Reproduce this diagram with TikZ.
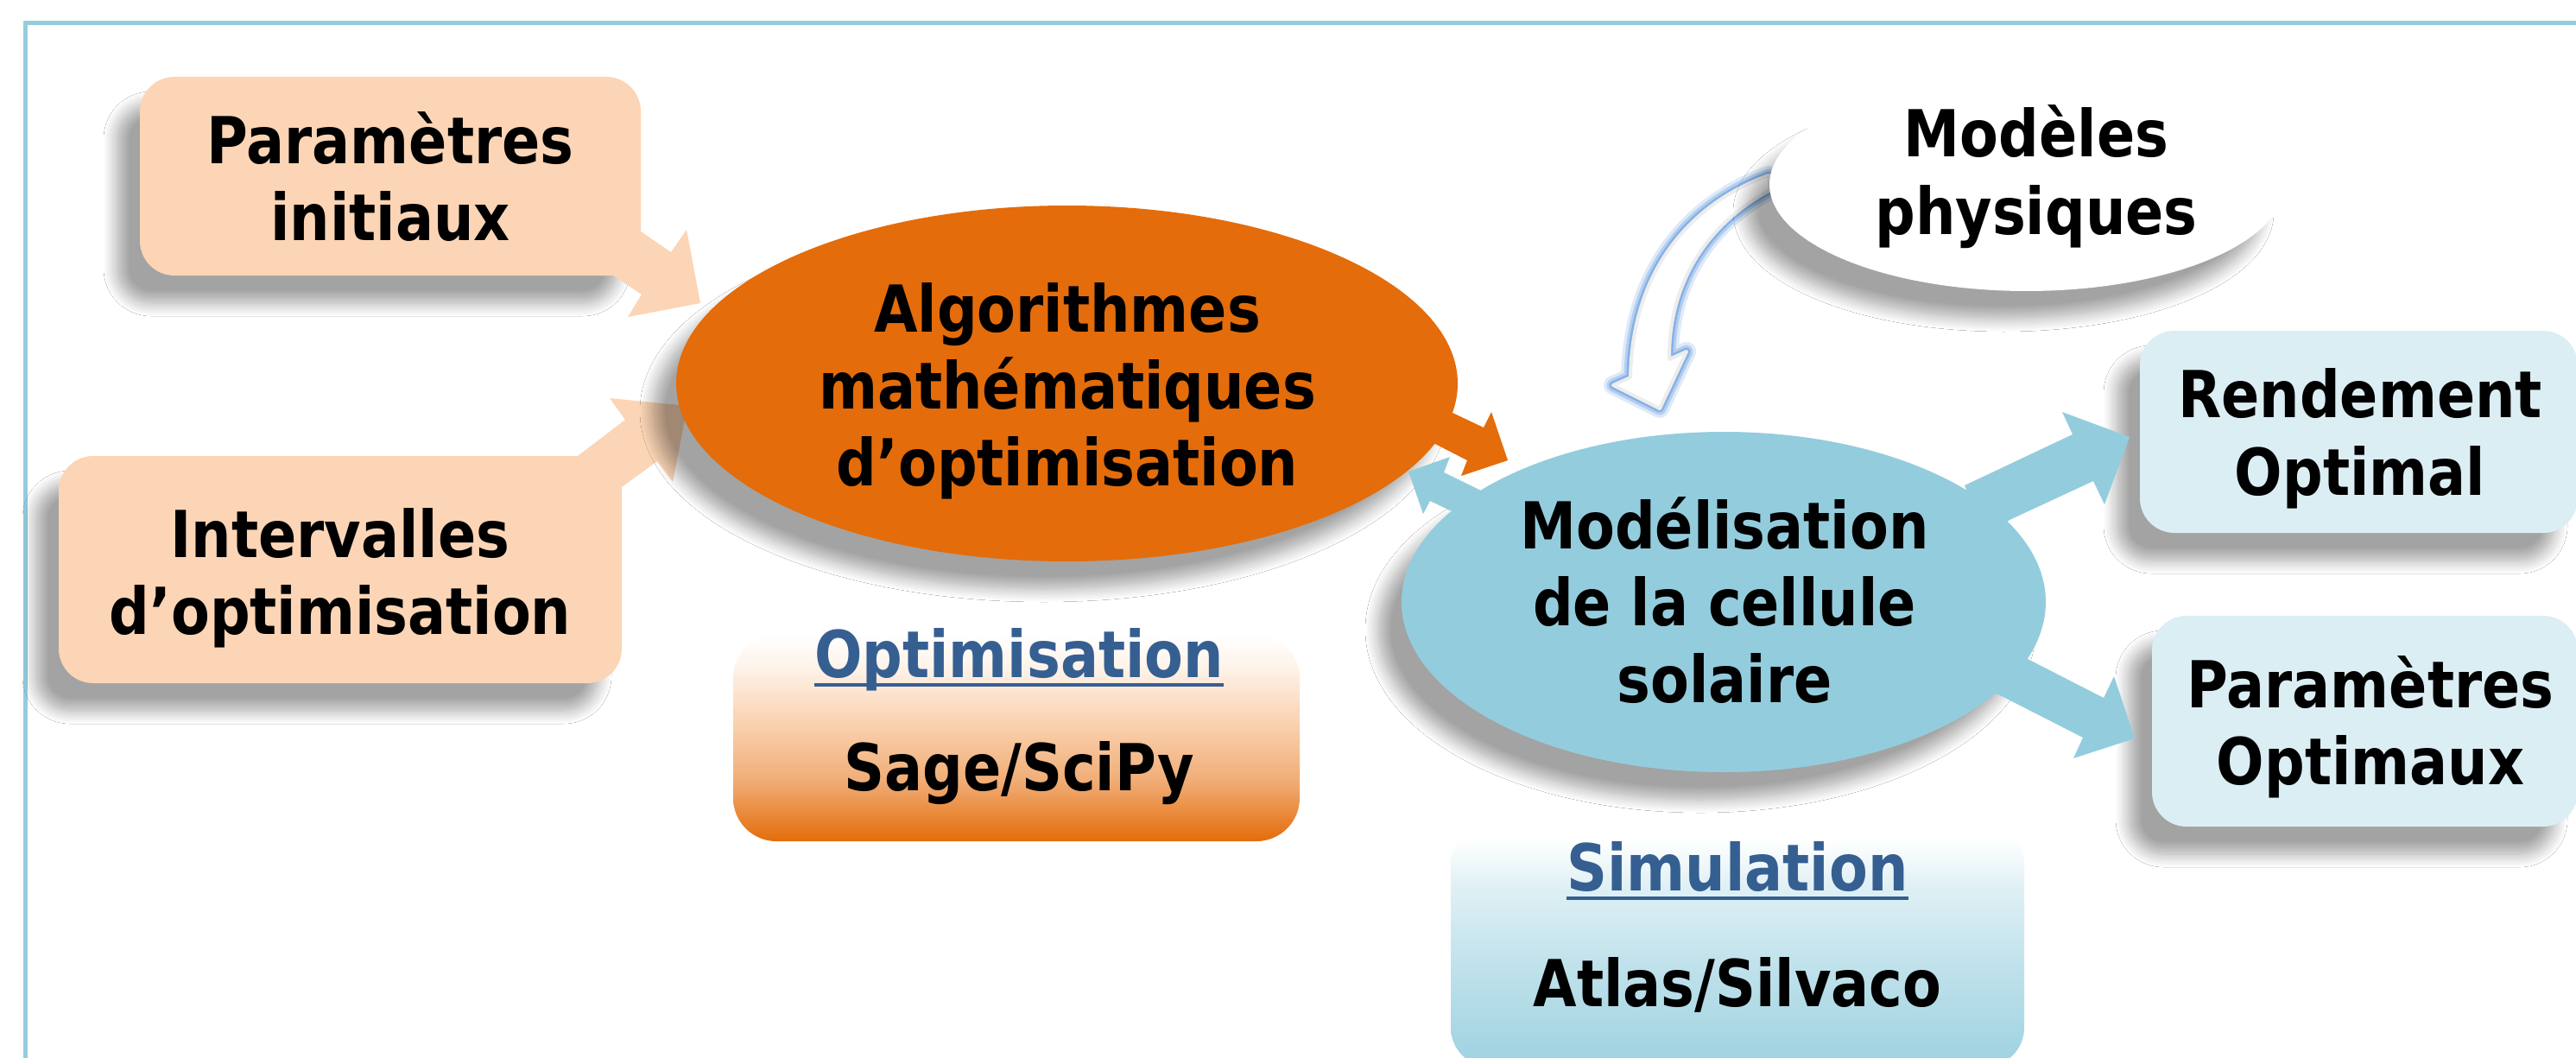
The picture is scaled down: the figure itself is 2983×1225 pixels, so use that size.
\documentclass[tikz,border=0pt]{standalone}
\usepackage{fontspec}
\newfontfamily\tf{DejaVu Sans}[FakeStretch=0.87]
\usetikzlibrary{shadows.blur,shapes.geometric}
\definecolor{peach}{HTML}{FBD5B5}
\definecolor{orng}{HTML}{E46C0A}
\definecolor{sky}{HTML}{93CDDD}
\definecolor{pale}{HTML}{DBEEF4}
\definecolor{ttl}{HTML}{365F91}
\definecolor{glow}{HTML}{80AEE6}
\pgfdeclareverticalshading{optshade}{100bp}{color(0bp)=(orng); color(25bp)=(orng); color(40bp)=(orng!55!white); color(55bp)=(peach); color(68bp)=(peach!25!white); color(75bp)=(white); color(100bp)=(white)}
\pgfdeclareverticalshading{simshade}{100bp}{color(0bp)=(sky!90!white); color(25bp)=(sky!90!white); color(45bp)=(sky!60!white); color(62bp)=(sky!30!white); color(72bp)=(white); color(100bp)=(white)}
\begin{document}
\begin{tikzpicture}[x=1pt,y=-1pt,
  txt/.style={font={\tf\bfseries\fontsize{75}{89}\selectfont}, inner sep=0pt, anchor=base},
  shad/.style={blur shadow={shadow xshift=-27pt, shadow yshift=-32pt, shadow blur radius=15pt, shadow blur steps=12, shadow opacity=36}},
  rbox/.style={draw=none, rounded corners=40pt, inner sep=0pt},
  oval/.style={ellipse, draw=none, inner sep=0pt},
  uline/.style={ttl, line width=4.5pt}]
\useasboundingbox (0,0) rectangle (2983,1225);
\clip (0,0) rectangle (2983,1225);
\fill[white] (0,0) rectangle (2983,1225);
\draw[sky, line width=5pt] (29,1300) -- (29,27) -- (3100,27);

% --- left callouts ---
\node[rbox, fill=peach, minimum width=580pt, minimum height=230pt, shad] (b1) at (452,204) {};
\fill[peach] (700,268) -- (742,268) -- (777,292) -- (795,266) -- (811,351) -- (727,367) -- (743,341) -- (710,319) -- (700,319) -- cycle;
\node[rbox, fill=peach, minimum width=652pt, minimum height=263pt, shad] (b2) at (394,659.5) {};
\fill[peach] (669,528) -- (724,486) -- (706,461) -- (796,470) -- (779,558) -- (761,534) -- (720,564) -- (700,560) -- (690,540) -- cycle;
\node[txt] (b1a) at (452,190) {Paramètres};
\node[txt] (b1b) at (452,279) {initiaux};
\node[txt] (b2a) at (394,645) {Intervalles};
\node[txt] (b2b) at (394,734) {d’optimisation};

% --- optimisation box ---
\node[draw=none, rounded corners=50pt, shading=optshade, minimum width=656pt, minimum height=239pt, inner sep=0pt] (optbox) at (1177,854.5) {};
\node[txt, text=ttl] (optT) at (1180,784) {Optimisation};
\draw[uline] ([yshift=-9pt]optT.base west) -- ([yshift=-9pt]optT.base east);
\node[txt] (sage) at (1180,915) {Sage/SciPy};

% --- simulation box ---
\node[draw=none, rounded corners=45pt, shading=simshade, minimum width=664pt, minimum height=280pt, inner sep=0pt] (simbox) at (2012,1095) {};
\node[txt, text=ttl] (simT) at (2012,1031) {Simulation};
\draw[uline] ([yshift=-9pt]simT.base west) -- ([yshift=-9pt]simT.base east);
\node[txt] (atlas) at (2012,1165) {Atlas/Silvaco};

% --- orange ellipse ---
\node[oval, fill=orng, minimum width=905pt, minimum height=412pt, shad] (alg) at (1235.5,444) {};
\fill[orng] (1640,490) -- (1682,478) -- (1718,495) -- (1727,477) -- (1746,533) -- (1692,551) -- (1699,533) -- (1662,514) -- (1640,510) -- cycle;
\node[txt] (alga) at (1236,384) {Algorithmes};
\node[txt] (algb) at (1236,473) {mathématiques};
\node[txt] (algc) at (1236,562) {d’optimisation};

% --- curved arrow from physical models ---
\draw[glow, line width=22pt, opacity=0.25, line join=round] (2048,203) .. controls (1960,235) and (1890,310) .. (1888,437) -- (1868,446) -- (1922,473) -- (1953,407) -- (1933,416) .. controls (1932,330) and (1975,260) .. (2050,220) -- cycle;
\draw[glow, line width=15pt, opacity=0.45, line join=round] (2048,203) .. controls (1960,235) and (1890,310) .. (1888,437) -- (1868,446) -- (1922,473) -- (1953,407) -- (1933,416) .. controls (1932,330) and (1975,260) .. (2050,220) -- cycle;
\draw[glow, line width=9pt, opacity=0.9, line join=round] (2048,203) .. controls (1960,235) and (1890,310) .. (1888,437) -- (1868,446) -- (1922,473) -- (1953,407) -- (1933,416) .. controls (1932,330) and (1975,260) .. (2050,220) -- cycle;
\filldraw[fill=white, draw=black!7, line width=4pt, line join=round] (2048,203) .. controls (1960,235) and (1890,310) .. (1888,437) -- (1868,446) -- (1922,473) -- (1953,407) -- (1933,416) .. controls (1932,330) and (1975,260) .. (2050,220) -- cycle;

% --- physical models ellipse ---
\node[oval, fill=white, minimum width=596pt, minimum height=247pt, shad] (phys) at (2347,213.5) {};
\node[txt] (physa) at (2358,182) {Modèles};
\node[txt] (physb) at (2358,271) {physiques};

% --- blue ellipse ---
\node[oval, fill=sky, minimum width=746pt, minimum height=394pt, shad] (cell) at (1996,697) {};
\fill[sky] (1730,580) -- (1713,567) -- (1672,547) -- (1679,529) -- (1631,546) -- (1648,595) -- (1656,580) -- (1679,591) -- (1720,600) -- cycle;
\node[txt] (cella) at (1997,635) {Modélisation};
\node[txt] (cellb) at (1997,724) {de la cellule};
\node[txt] (cellc) at (1997,813) {solaire};

% --- right result boxes ---
\node[rbox, fill=pale, minimum width=507pt, minimum height=234pt, shad] (rend) at (2731.5,500) {};
\node[rbox, fill=pale, minimum width=493pt, minimum height=244pt, shad] (popt) at (2738.5,835) {};
\fill[sky] (2290,600) -- (2275,562) -- (2400,503) -- (2388,477) -- (2466,506) -- (2437,584) -- (2424,557) -- (2327,602) -- (2300,620) -- cycle;
\fill[sky] (2300,770) -- (2348,763) -- (2436,808) -- (2448,783) -- (2472,855) -- (2401,878) -- (2412,854) -- (2312,803) -- (2295,790) -- cycle;
\node[txt] (renda) at (2733,483) {Rendement};
\node[txt] (rendb) at (2733,573) {Optimal};
\node[txt] (popta) at (2745,819) {Paramètres};
\node[txt] (poptb) at (2745,908) {Optimaux};
\end{tikzpicture}
\end{document}
